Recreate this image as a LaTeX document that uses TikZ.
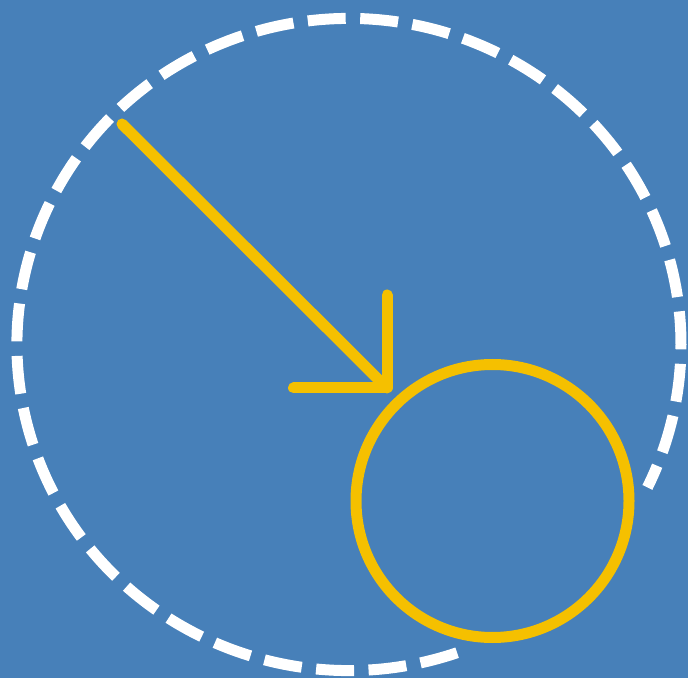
\documentclass[tikz,border=0pt]{standalone}
\usepackage{xcolor}
\usepackage{tikz}
\definecolor{bgblue}{RGB}{71,128,185}
\definecolor{sunyellow}{RGB}{245,192,0}

\begin{document}
\begin{tikzpicture}[x=1pt, y=1pt,
      ring/.style={draw=white, line width=11pt, dash pattern=on 38pt off 14.5pt},
      marker/.style={draw=sunyellow, line width=11pt, line cap=round, line join=round}
    ]
    \fill[bgblue] (0,0) rectangle (688,678);
    \useasboundingbox (0,0) rectangle (688,678);
    \coordinate (ctr) at (349,333.5);
    \coordinate (spot) at (492.5,177);
    \coordinate (tail) at (122,554);
    \coordinate (tip) at (387,290);
    \coordinate (armup) at (387,383);
    \coordinate (armleft) at (293.5,290);
    \draw[ring] ([shift={(289:332 and 326)}]ctr) arc[start angle=289, end angle=-26, x radius=332, y radius=326];
    \draw[marker] (spot) circle[radius=136.5];
    \draw[marker] (tail) -- (tip);
    \draw[marker] (armup) -- (tip) -- (armleft);
  \end{tikzpicture}
\end{document}
